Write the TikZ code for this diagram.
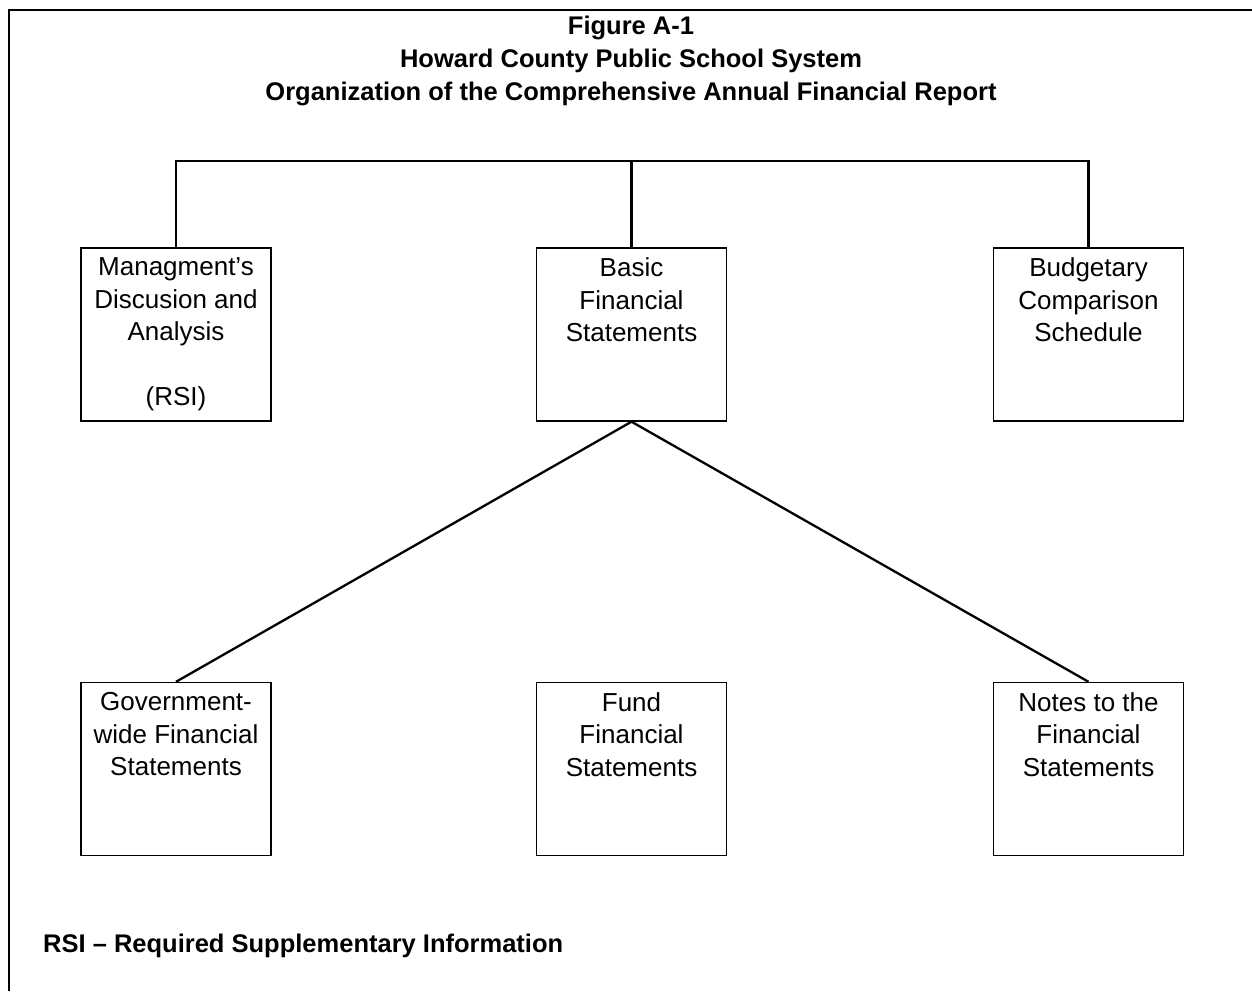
\documentclass[tikz,border=0pt]{standalone}
\usepackage{fontspec}
\setmainfont{Liberation Sans}
\begin{document}
\begin{tikzpicture}[x=1pt,y=-1pt,
  box/.style={draw, line width=1.4pt, minimum width=190pt, minimum height=173pt, inner sep=0pt},
  lbl/.style={align=center, inner sep=0pt, font=\fontsize{26}{32.5}\selectfont, anchor=north, yshift=-10.5pt},
  conn/.style={line width=2.3pt},
  ttl/.style={align=center, inner sep=0pt, font=\fontsize{25.5}{33}\selectfont\bfseries}]
\useasboundingbox (0,0) rectangle (1252,991);

% frame (top and left edges)
\coordinate (frTR) at (1252,10);
\coordinate (frTL) at (9,10);
\coordinate (frBL) at (9,991);
\draw[line width=1.4pt] (frTR) -- (frTL) -- (frBL);

% heading
\node[ttl, anchor=north] (title) at (631,16)
  {Figure A-1\\Howard County Public School System\\Organization of the Comprehensive Annual Financial Report};

% upper row
\node[box] (mda) at (176,334.5) {};
\node[box] (bfs) at (631.5,334.5) {};
\node[box] (bcs) at (1088.5,334.5) {};
\node[lbl] (mdat) at (mda.north) {Managment's\\Discusion and\\Analysis\\[32.5pt](RSI)};
\node[lbl] (bfst) at (bfs.north) {Basic\\Financial\\Statements};
\node[lbl] (bcst) at (bcs.north) {Budgetary\\Comparison\\Schedule};

% lower row
\node[box] (gws) at (176,769) {};
\node[box] (ffs) at (631.5,769) {};
\node[box] (nfs) at (1088.5,769) {};
\node[lbl] (gwst) at (gws.north) {Government-\\wide Financial\\Statements};
\node[lbl] (ffst) at (ffs.north) {Fund\\Financial\\Statements};
\node[lbl] (nfst) at (nfs.north) {Notes to the\\Financial\\Statements};

% connectors
\coordinate (bar) at (631.5,161);
\draw[conn] (mda.north) -- (mda.north |- bar) -- (bcs.north |- bar) -- (bcs.north);
\draw[conn] (bar) -- (bfs.north);
\draw[conn] (bfs.south) -- (gws.north);
\draw[conn] (bfs.south) -- (nfs.north);

% footnote
\node[anchor=base west, inner sep=0pt, font=\fontsize{25.5}{30}\selectfont\bfseries] (note) at (43,952)
  {RSI -- Required Supplementary Information};
\end{tikzpicture}
\end{document}
